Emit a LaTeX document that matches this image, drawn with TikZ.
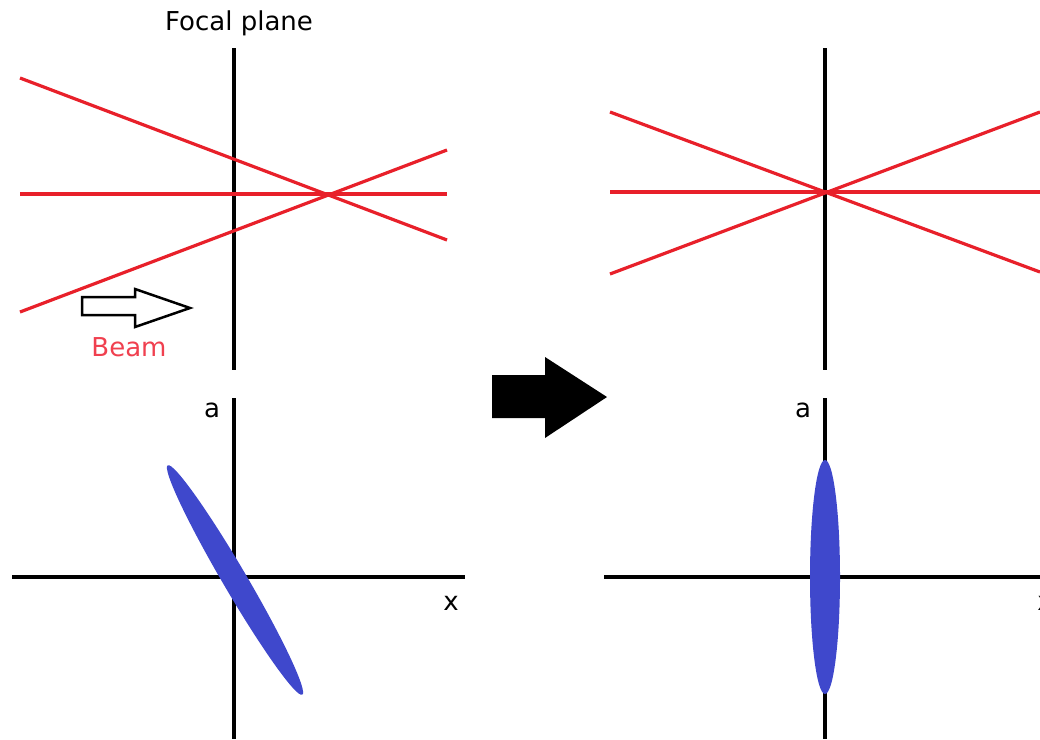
\documentclass[tikz,border=0pt]{standalone}
\usepackage{fontspec}
\setmainfont{DejaVu Sans}
\definecolor{beamred}{HTML}{E8202A}
\definecolor{labred}{HTML}{F0404F}
\definecolor{blobblue}{HTML}{3F48CC}
\begin{document}
\begin{tikzpicture}[x=1pt,y=-1pt,
  axisline/.style={black,line width=4pt},
  ray/.style={beamred,line width=3.2pt},
  blob/.style={fill=blobblue},
  lbl/.style={font=\fontsize{26}{30}\selectfont,inner sep=0pt}]
\useasboundingbox (0,0) rectangle (1040,739);
% ---- left top panel
\draw[axisline] (234,48) -- (234,370);
\draw[ray] (20,194) -- (447,194);
\draw[ray] (20,78) -- (447,240);
\draw[ray] (20,312) -- (447,150);
\node[lbl] (fp) at (239,23) {Focal plane};
% beam arrow
\draw[black,line width=2.5pt,line join=miter] (82,297) -- (135,297) -- (135,289) -- (190,308) -- (135,327) -- (135,315) -- (82,315) -- cycle;
\node[lbl,text=labred] (beam) at (129,347) {Beam};
% ---- left bottom panel
\draw[axisline] (234,398) -- (234,739);
\draw[axisline] (12,577) -- (465,577);
\node[lbl] (xl) at (451,603) {x};
\node[lbl] (al) at (212,410) {a};
\fill[blob,rotate around={-59.6:(235,580)}] (235,580) ellipse [x radius=133, y radius=12];
% ---- big arrow
\fill[black] (492,375) -- (545,375) -- (545,357) -- (607,397) -- (545,438) -- (545,418) -- (492,418) -- cycle;
% ---- right top panel
\draw[axisline] (825,48) -- (825,370);
\draw[ray] (610,192) -- (1040,192);
\draw[ray] (610,112) -- (1040,272);
\draw[ray] (610,274) -- (1040,112);
% ---- right bottom panel
\draw[axisline] (825,398) -- (825,739);
\draw[axisline] (604,577) -- (1040,577);
\node[lbl] (xr) at (1045,603) {x};
\node[lbl] (ar) at (803,410) {a};
\fill[blob] (825,577) ellipse [x radius=15, y radius=117];
\end{tikzpicture}
\end{document}
